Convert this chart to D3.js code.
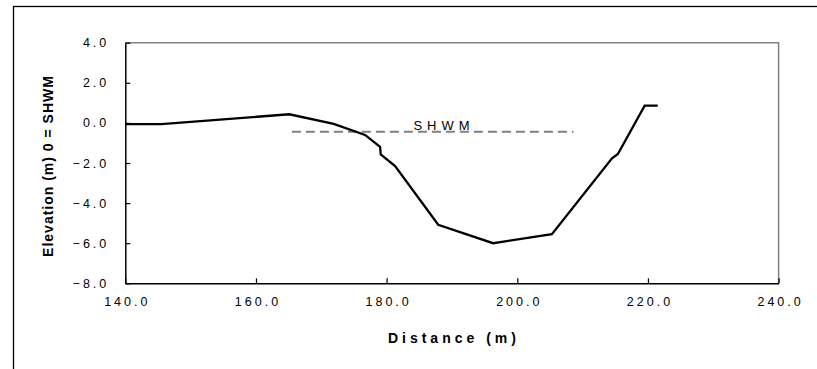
<!DOCTYPE html>
<html><head><meta charset="utf-8">
<script src="https://cdn.jsdelivr.net/npm/d3@7"></script>
<style>body{margin:0;background:#fff}svg{display:block}</style>
</head><body>
<script>
const distance = [140.0, 145.5, 165.1, 171.9, 176.7, 179.0, 179.1, 181.3, 187.9, 196.3, 205.3, 214.5, 215.4, 219.5, 221.5];
const elevation = [-0.06, -0.06, 0.43, -0.05, -0.6, -1.19, -1.57, -2.15, -5.08, -6.0, -5.55, -1.77, -1.55, 0.86, 0.86];
const shwmDistance = [165.5, 208.6];
const shwmElevation = [-0.44, -0.44];
const shwmLabel = "SHWM";
const xTicks = [140, 160, 180, 200, 220, 240];
const yTicks = [-8, -6, -4, -2, 0, 2, 4];
const xTitle = "Distance (m)";
const yTitle = "Elevation (m) 0 = SHWM";

const W = 817, H = 369;
const svg = d3.select("body").append("svg").attr("width", W).attr("height", H);
const font = "'Liberation Sans', Arial, sans-serif";

// outer chart frame (extends beyond the window)
svg.append("rect").attr("x", 13.5).attr("y", 6.5).attr("width", 900).attr("height", 500)
  .attr("fill", "none").attr("stroke", "#000").attr("stroke-width", 1.3);

const L = 125.3, R = 778.6, T = 42.7, B = 283.3;
const x = d3.scaleLinear().domain([140, 240]).range([L, R]);
const y = d3.scaleLinear().domain([-8, 4]).range([B, T]);

// plot area border (gray top/right)
svg.append("path").attr("d", `M${L},${T}H${R}V${B}`).attr("fill", "none")
  .attr("stroke", "#808080").attr("stroke-width", 1.5);

const fmt = d3.format(".1f");
const xAxis = d3.axisBottom(x).tickValues(xTicks).tickSizeInner(-5).tickSizeOuter(0).tickFormat(fmt).tickPadding(14);
const gx = svg.append("g").attr("transform", `translate(0,${B})`).call(xAxis);
const yAxis = d3.axisLeft(y).tickValues(yTicks).tickSizeInner(-5).tickSizeOuter(0).tickFormat(fmt).tickPadding(19);
const gy = svg.append("g").attr("transform", `translate(${L},0)`).call(yAxis);

[gx, gy].forEach(g => {
  g.select(".domain").attr("stroke", "#000").attr("stroke-width", 1.5);
  g.selectAll(".tick line").attr("stroke", "#000").attr("stroke-width", 1.2);
  g.selectAll("text").attr("font-family", font).attr("font-size", 12.5)
    .attr("fill", "#000").style("letter-spacing", "3px");
});
gx.selectAll(".tick text").attr("dx", 1.5);
gy.selectAll(".tick text").attr("dx", 3);

// SHWM dashed line
const line = d3.line().x(d => x(d[0])).y(d => y(d[1]));
svg.append("path").datum(d3.zip(shwmDistance, shwmElevation)).attr("d", line)
  .attr("fill", "none").attr("stroke", "#808080").attr("stroke-width", 2)
  .attr("stroke-dasharray", "9,5");
svg.append("text").attr("x", x(184.1)).attr("y", y(-0.35)).text(shwmLabel)
  .attr("font-family", font).attr("font-size", 13).style("letter-spacing", "5px").attr("fill", "#000");

// profile
svg.append("path").datum(d3.zip(distance, elevation)).attr("d", line)
  .attr("fill", "none").attr("stroke", "#000").attr("stroke-width", 2.3)
  .attr("stroke-linejoin", "miter");

// axis titles
svg.append("text").attr("x", (L + R) / 2 + 2).attr("y", 342.7).attr("text-anchor", "middle")
  .attr("font-family", font).attr("font-weight", "bold").attr("font-size", 14)
  .style("letter-spacing", "4px").text(xTitle);
svg.append("text").attr("transform", `translate(53,${(T + B) / 2 + 3}) rotate(-90)`)
  .attr("text-anchor", "middle").attr("font-family", font).attr("font-weight", "bold")
  .attr("font-size", 14).style("letter-spacing", "1px").text(yTitle);
</script>
</body></html>
